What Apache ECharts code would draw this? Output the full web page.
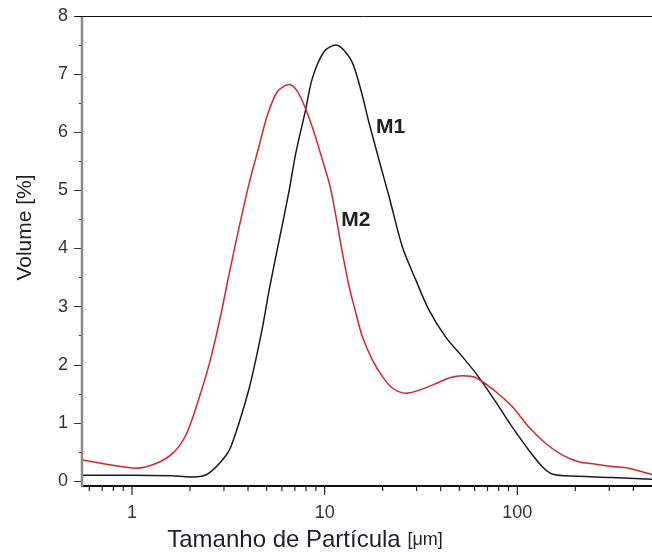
<!DOCTYPE html>
<html>
<head>
<meta charset="utf-8">
<script src="https://cdn.jsdelivr.net/npm/echarts@6/dist/echarts.min.js"></script>
<style>
  html, body { margin: 0; padding: 0; background: #fff; }
  #chart { width: 652px; height: 552px; }
</style>
</head>
<body>
<div id="chart"></div>
<script>
// M1 curve: particle size (µm) / volume (%)
const m1Size = [0.55, 1.0, 1.6, 2.0, 2.3, 2.52, 2.84, 3.2, 3.61, 4.06, 4.4, 4.76, 5.16, 5.81, 6.55, 7.09, 7.93, 8.65, 9.94, 11.4, 13.67, 15.4, 17.0, 19.55, 21.6, 25.3, 29.7, 34.8, 42.4, 51.8, 60.7, 68.4, 80.2, 94.0, 114.7, 134.5, 151.4, 177.7, 309, 500];
const m1Vol = [0.10, 0.10, 0.09, 0.07, 0.08, 0.14, 0.30, 0.53, 1.02, 1.60, 2.10, 2.65, 3.30, 4.15, 5.01, 5.65, 6.36, 6.94, 7.39, 7.50, 7.25, 6.73, 6.16, 5.41, 4.89, 4.03, 3.46, 2.94, 2.48, 2.14, 1.86, 1.62, 1.28, 0.93, 0.53, 0.25, 0.12, 0.09, 0.06, 0.03];

// M2 curve
const m2Size = [0.55, 0.765, 1.05, 1.33, 1.63, 1.91, 2.24, 2.52, 2.84, 3.2, 3.61, 4.06, 4.58, 5.05, 5.69, 6.55, 7.23, 7.99, 8.82, 9.74, 10.77, 12.37, 13.4, 14.52, 15.7, 17.7, 19.93, 22.45, 26.35, 32.1, 39.2, 45.0, 51.8, 60.7, 77.1, 94.0, 114.7, 140, 170.6, 208, 254, 310, 378, 500];
const m2Vol = [0.36, 0.28, 0.22, 0.30, 0.48, 0.80, 1.45, 2.02, 2.74, 3.58, 4.39, 5.13, 5.78, 6.30, 6.70, 6.82, 6.70, 6.39, 5.99, 5.52, 5.01, 3.92, 3.34, 2.89, 2.48, 2.08, 1.80, 1.60, 1.51, 1.58, 1.70, 1.78, 1.81, 1.78, 1.54, 1.28, 0.93, 0.65, 0.45, 0.33, 0.29, 0.25, 0.22, 0.11];

// log axis ticks
const majorTicks = [1, 10, 100];
const minorTicks = [0.6, 0.7, 0.8, 0.9, 2, 3, 4, 5, 6, 7, 8, 9, 20, 30, 40, 50, 60, 70, 80, 90, 200, 300, 400];

const font = "Liberation Sans, Arial, sans-serif";
const chart = echarts.init(document.getElementById("chart"));

const tickData = majorTicks.map((v) => [v, 0, 9]).concat(minorTicks.map((v) => [v, 0, 5]));

const option = {
  animation: false,
  backgroundColor: "#fff",
  grid: { left: 82, right: 0, top: 16, bottom: 71, outerBoundsMode: "none" },
  xAxis: {
    type: "log",
    logBase: 10,
    min: 0.55,
    max: 500,
    offset: 5,
    axisLine: { onZero: false, lineStyle: { color: "#111", width: 2 } },
    axisTick: { show: false },
    splitLine: { show: false },
    axisLabel: {
      color: "#333",
      fontSize: 18,
      fontFamily: font,
      margin: 18,
      showMinLabel: false,
      showMaxLabel: false,
      formatter: (v) => {
        const l = Math.log10(v);
        return Math.abs(l - Math.round(l)) < 1e-6 ? String(Math.round(v)) : "";
      },
    },
    name: "Tamanho de Partícula {s|[μm]}",
    nameLocation: "middle",
    nameGap: 42,
    nameTextStyle: {
      color: "#1e1e2e",
      fontSize: 24,
      fontFamily: font,
      padding: [0, 124, 0, 0],
      rich: { s: { fontSize: 18, fontFamily: font, color: "#1e1e2e" } },
    },
  },
  yAxis: {
    type: "value",
    min: 0,
    max: 8,
    interval: 1,
    axisLine: { show: false },
    axisTick: { show: true, length: 8, lineStyle: { color: "#333", width: 1 } },
    minorTick: { show: true, splitNumber: 2, length: 3, lineStyle: { color: "#333", width: 1 } },
    splitLine: { show: false },
    axisLabel: { color: "#333", fontSize: 18, fontFamily: font, margin: 14 },
    name: "Volume [%]",
    nameLocation: "middle",
    nameGap: 46,
    nameRotate: 90,
    nameTextStyle: {
      color: "#222",
      fontSize: 21,
      fontFamily: font,
      padding: [0, 0, 0, 42],
    },
  },
  graphic: [
    // frame: grey left line down to the shifted x axis, thin black top line
    { type: "line", shape: { x1: 82, y1: 16, x2: 82, y2: 487 }, style: { stroke: "#888", lineWidth: 2.5 }, z: 10 },
    { type: "line", shape: { x1: 75, y1: 16.5, x2: 652, y2: 16.5 }, style: { stroke: "#111", lineWidth: 1 }, z: 10 },
  ],
  series: [
    {
      name: "M1",
      type: "line",
      data: m1Size.map((s, i) => [s, m1Vol[i]]),
      smooth: 0.3,
      showSymbol: false,
      lineStyle: { color: "#1a1a1a", width: 1.5 },
      markPoint: {
        symbol: "circle",
        symbolSize: 0,
        label: { show: true, formatter: "M1", color: "#222", fontSize: 21, fontWeight: "bold", fontFamily: font },
        data: [{ coord: [22, 6.08] }],
      },
    },
    {
      name: "M2",
      type: "line",
      data: m2Size.map((s, i) => [s, m2Vol[i]]),
      smooth: 0.3,
      showSymbol: false,
      lineStyle: { color: "#e0202a", width: 1.5 },
      markPoint: {
        symbol: "circle",
        symbolSize: 0,
        label: { show: true, formatter: "M2", color: "#222", fontSize: 21, fontWeight: "bold", fontFamily: font },
        data: [{ coord: [14.5, 4.49] }],
      },
    },
    {
      // x axis ticks (major + minor) drawn below the offset axis line
      type: "custom",
      silent: true,
      clip: false,
      data: tickData,
      renderItem: (params, api) => {
        const p = api.coord([api.value(0), 0]);
        const len = api.value(2);
        return {
          type: "line",
          shape: { x1: p[0], y1: p[1] + 5, x2: p[0], y2: p[1] + 5 + len },
          style: { stroke: "#222", lineWidth: 1.2 },
        };
      },
    },
  ],
};

chart.setOption(option);
</script>
</body>
</html>
